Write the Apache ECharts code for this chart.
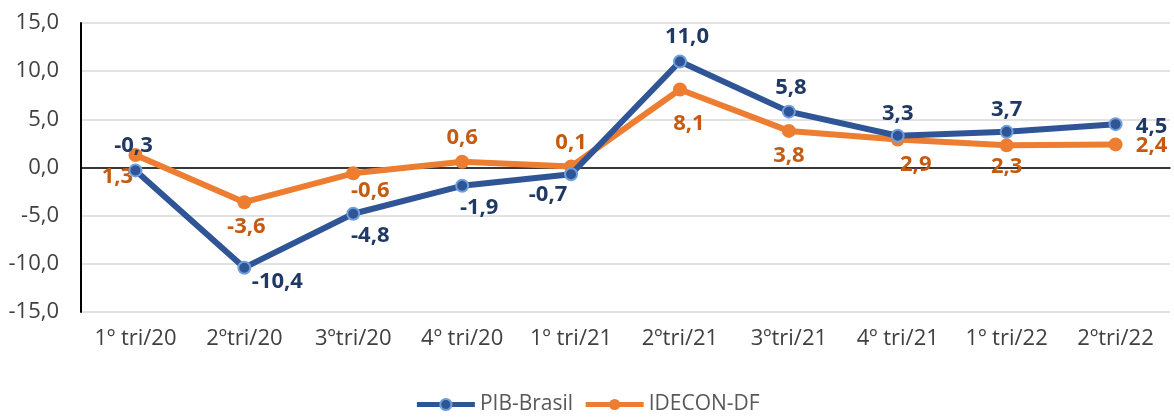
<!DOCTYPE html>
<html>
<head>
<meta charset="utf-8">
<script src="https://cdn.jsdelivr.net/npm/echarts@6/dist/echarts.min.js"></script>
<style>
  html, body { margin: 0; padding: 0; background: #fff; }
  #chart { width: 1174px; height: 417px; }
</style>
</head>
<body>
<div id="chart"></div>
<script>
// dados
const categorias = ['1º tri/20', '2ºtri/20', '3ºtri/20', '4º tri/20', '1º tri/21', '2ºtri/21', '3ºtri/21', '4º tri/21', '1º tri/22', '2ºtri/22'];
const pibBrasil = [-0.3, -10.4, -4.8, -1.9, -0.7, 11.0, 5.8, 3.3, 3.7, 4.5];
const idecon = [1.3, -3.6, -0.6, 0.6, 0.1, 8.1, 3.8, 2.9, 2.3, 2.4];

// deslocamento dos rotulos (px) em relacao ao ponto
const pibOffsets = [[-2, -25], [33, 14], [17, 22], [17, 22], [-23, 20], [7, -25], [2, -24], [0, -22], [0, -22], [36, 3]];
const ideconOffsets = [[-18, 22], [2, 25], [17, 17], [0, -24], [0, -24], [9, 34], [0, 25], [18, 25], [0, 21], [36, 1]];

const fmt = v => v.toFixed(1).replace('.', ',');

function montaDados(vals, offs) {
    return vals.map((v, i) => ({
        value: v,
        label: { offset: offs[i] }
    }));
}

let chartDiv = echarts.init(document.getElementById('chart'));
let option = {
    animation: false,
    textStyle: { fontFamily: 'Open Sans' },
    grid: { left: 81, right: 4, top: 23, bottom: 105 },
    legend: {
        bottom: -3,
        left: 'center',
        itemWidth: 58,
        itemHeight: 14,
        itemGap: 10,
        lineStyle: { width: 5 },
        textStyle: { fontSize: 21, color: '#595959', fontFamily: 'Open Sans' },
        data: ['PIB-Brasil', 'IDECON-DF']
    },
    xAxis: {
        type: 'category',
        data: categorias,
        boundaryGap: true,
        axisLine: { onZero: true, lineStyle: { color: '#000', width: 1.5 } },
        axisTick: { show: false },
        axisLabel: {
            interval: 0,
            color: '#404040',
            fontSize: 22,
            margin: 16
        }
    },
    yAxis: {
        type: 'value',
        min: -15,
        max: 15,
        interval: 5,
        axisLine: { show: true, lineStyle: { color: '#000', width: 2 } },
        axisTick: { show: false },
        splitLine: { lineStyle: { color: '#d9d9d9', width: 1.5 } },
        axisLabel: {
            color: '#404040',
            fontSize: 22,
            margin: 22,
            formatter: v => fmt(v)
        }
    },
    series: [
        {
            name: 'PIB-Brasil',
            type: 'line',
            z: 3,
            data: montaDados(pibBrasil, pibOffsets),
            symbol: 'circle',
            symbolSize: 12,
            lineStyle: { color: '#2F5597', width: 6 },
            itemStyle: { color: '#2F5597', borderColor: '#6FA0DC', borderWidth: 2 },
            label: {
                show: true,
                position: 'inside',
                color: '#203864',
                fontSize: 22,
                fontWeight: 'bold',
                formatter: p => fmt(p.value)
            }
        },
        {
            name: 'IDECON-DF',
            type: 'line',
            z: 2,
            data: montaDados(idecon, ideconOffsets),
            symbol: 'circle',
            symbolSize: 14,
            lineStyle: { color: '#ED7D31', width: 6 },
            itemStyle: { color: '#ED7D31' },
            label: {
                show: true,
                position: 'inside',
                color: '#C55A11',
                fontSize: 22,
                fontWeight: 'bold',
                formatter: p => fmt(p.value)
            }
        }
    ]
};
chartDiv.setOption(option);
</script>
</body>
</html>
